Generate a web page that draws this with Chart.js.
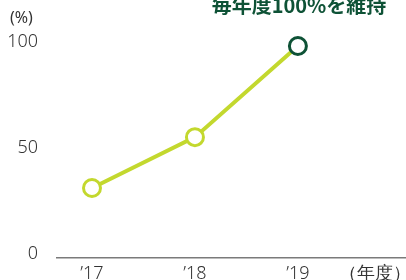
<!DOCTYPE html>
<html>
<head>
<meta charset="utf-8">
<script src="https://cdn.jsdelivr.net/npm/chart.js@4"></script>
<style>
  html, body { margin: 0; padding: 0; background: #fff; overflow: hidden; }
  canvas { display: block; }
</style>
</head>
<body>
<canvas id="chart" width="406" height="280"></canvas>
<script>
const years = ["’17", "’18", "’19"];
const rates = [33, 57, 100];
const yTicks = [0, 50, 100];
const unitY = "(%)";
const unitX = "（年度）";
const headline = "毎年度100%を維持";

const lime = "#c3d82e";
const darkGreen = "#0e5236";
const tickFont = { family: "'Noto Sans', sans-serif", size: 18, weight: 300 };

// unit label and headline
const textPlugin = {
  id: "texts",
  afterDraw(chart) {
    const ctx = chart.ctx;
    ctx.save();
    ctx.fillStyle = "#333";
    ctx.font = "16px 'Noto Sans', sans-serif";
    ctx.textAlign = "left";
    ctx.textBaseline = "middle";
    ctx.fillText(unitY, 10, 18);
    ctx.fillStyle = darkGreen;
    ctx.font = "bold 20px 'Noto Sans CJK JP', sans-serif";
    ctx.textAlign = "center";
    ctx.textBaseline = "alphabetic";
    ctx.fillText(headline, 299, 13);
    ctx.restore();
  }
};

new Chart(document.getElementById("chart"), {
  type: "line",
  data: {
    datasets: [{
      data: rates.map((v, i) => ({ x: i, y: v })),
      clip: false,
      borderColor: lime,
      borderWidth: 4,
      tension: 0,
      pointRadius: 8.5,
      pointHoverRadius: 8.5,
      pointBorderWidth: 3,
      pointBackgroundColor: "#fff",
      pointBorderColor: rates.map(v => v === 100 ? darkGreen : lime)
    }]
  },
  options: {
    responsive: false,
    animation: false,
    layout: { autoPadding: false, padding: { top: 46, right: 0, left: 0, bottom: 0 } },
    plugins: { legend: { display: false }, tooltip: { enabled: false } },
    scales: {
      x: {
        type: "linear",
        min: -0.34,
        max: 3.05,
        afterBuildTicks: s => { s.ticks = [0, 1, 2, 2.75].map(v => ({ value: v })); },
        afterFit: s => { s.height = 22; s.paddingLeft = 0; s.paddingRight = 0; },
        grid: { display: false, drawTicks: false },
        border: { display: true, color: "#7a7a7a", width: 1.5 },
        ticks: {
          padding: 5,
          color: "#333",
          font: tickFont,
          maxRotation: 0,
          autoSkip: false,
          callback: v => v === 2.75 ? unitX : years[v]
        }
      },
      y: {
        min: 0,
        max: 100,
        afterBuildTicks: s => { s.ticks = yTicks.map(v => ({ value: v })); },
        afterFit: s => { s.width = 57; s.paddingTop = 0; s.paddingBottom = 0; },
        grid: { display: false, drawTicks: false },
        border: { display: false },
        ticks: {
          padding: 19,
          labelOffset: -4,
          color: "#333",
          font: tickFont
        }
      }
    }
  },
  plugins: [textPlugin]
});
</script>
</body>
</html>
